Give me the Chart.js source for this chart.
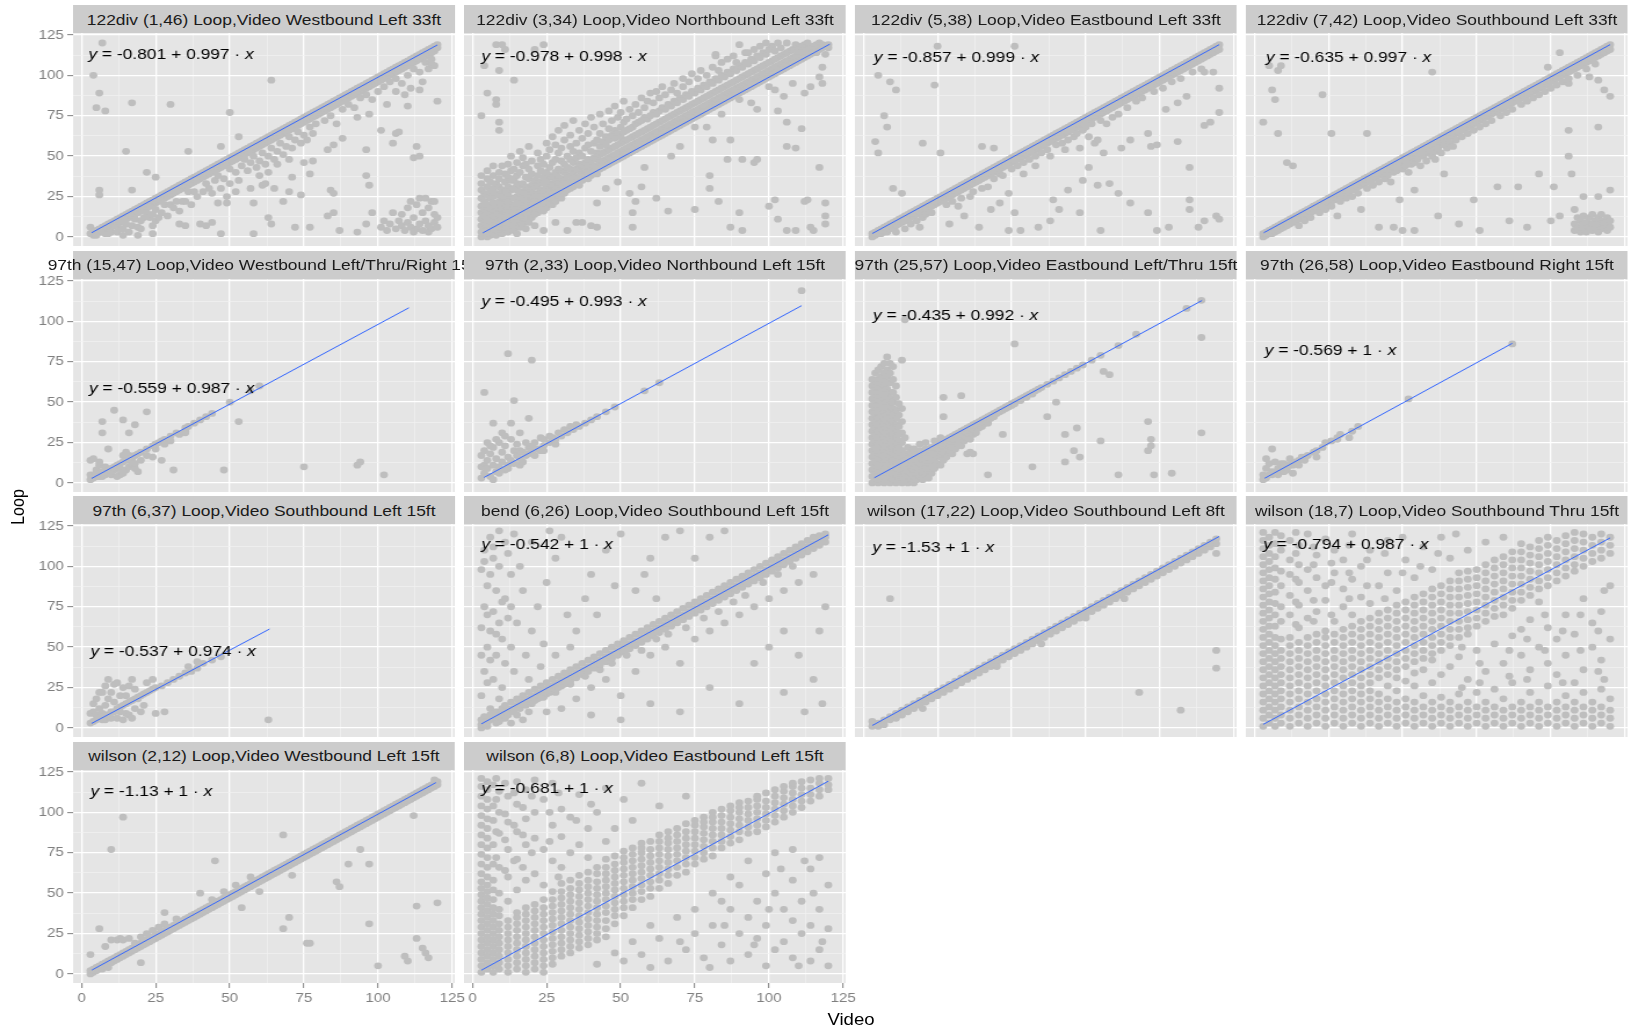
<!DOCTYPE html>
<html>
<head>
<meta charset="utf-8">
<script src="https://cdn.jsdelivr.net/npm/chart.js@4"></script>
<style>
  html, body { margin: 0; padding: 0; background: #fff; }
  body { width: 1633px; height: 1030px; overflow: hidden; position: relative; }
  #wrap { position: absolute; left: 0; top: 0; width: 1408px; height: 1030px;
          transform: scaleX(1.16); transform-origin: 0 0;
          font-family: "Liberation Sans", Arial, sans-serif; }
  canvas { position: absolute; }
  .strip { position: absolute; height: 28px; background: #CCCCCC; display: flex;
           justify-content: center; align-items: center; white-space: nowrap;
           font-size: 15px; color: #1A1A1A; }
  .axis-title { position: absolute; font-size: 16px; color: #000; white-space: nowrap;
                transform: translate(-50%, -50%); }
</style>
</head>
<body>
<div id="wrap"></div>
<script>
// facet titles, fitted coefficients and where each label sits (data units)
const titles = [
  "122div (1,46) Loop,Video Westbound Left 33ft",
  "122div (3,34) Loop,Video Northbound Left 33ft",
  "122div (5,38) Loop,Video Eastbound Left 33ft",
  "122div (7,42) Loop,Video Southbound Left 33ft",
  "97th (15,47) Loop,Video Westbound Left/Thru/Right 15ft",
  "97th (2,33) Loop,Video Northbound Left 15ft",
  "97th (25,57) Loop,Video Eastbound Left/Thru 15ft",
  "97th (26,58) Loop,Video Eastbound Right 15ft",
  "97th (6,37) Loop,Video Southbound Left 15ft",
  "bend (6,26) Loop,Video Southbound Left 15ft",
  "wilson (17,22) Loop,Video Southbound Left 8ft",
  "wilson (18,7) Loop,Video Southbound Thru 15ft",
  "wilson (2,12) Loop,Video Westbound Left 15ft",
  "wilson (6,8) Loop,Video Eastbound Left 15ft"
];
const eqA = ["-0.801", "-0.978", "-0.857", "-0.635", "-0.559", "-0.495", "-0.435",
             "-0.569", "-0.537", "-0.542", "-1.53", "-0.794", "-1.13", "-0.681"];
const eqB = ["0.997", "0.998", "0.999", "0.997", "0.987", "0.993", "0.992",
             "1", "0.974", "1", "1", "0.987", "1", "1"];
const labelX = [2.3, 3, 3.5, 3.9, 2.5, 3, 3.2, 3.5, 3, 3, 3, 3, 3, 3];
const labelY = [112.6, 111.5, 110.8, 110.8, 58.5, 111.8, 103.6, 81.5, 46.8, 113.6, 111.7, 113.6, 112.8, 114.7];

// fitted line ends
const lineFrom = [[3.4, 2.6], [3.5, 2.5], [3, 2.1], [3.2, 2.6], [3.4, 2.8], [3.9, 3.4], [3.7, 3.2],
                  [3.5, 2.9], [3.4, 2.8], [3, 2.5], [3, 1.5], [3, 2.2], [3.5, 2.4], [3, 2.3]];
const lineTo = [[120, 118.8], [120.5, 119.3], [120, 119], [120, 119], [110.4, 108.4], [111, 109.7], [114.2, 112.9],
                [87, 86.4], [63.4, 61.2], [120, 119.5], [120, 118.5], [120, 117.6], [119.5, 118.4], [120, 119.3]];

const majorTicks = [0, 25, 50, 75, 100, 125];
const minorTicks = [12.5, 37.5, 62.5, 87.5, 112.5];
const xRange = [-2.85, 125.85];
const yRange = [-5.6, 126.2];

// points per panel: each row is [video, loop, loop, ...]
const p1 = [
[3,2,6],[4,1,3,100],[5,4,1,80],[6,3,5,29,26,89],[7,6,3,120],[8,4,7,2,78],[9,8,5,2],[10,6,9,3],
[11,10,7],[12,8,11,3],[13,12,9,5],[14,10,13,5,1],[15,14,11,8,53],[16,12,15,3],[17,16,13,7,29,83],
[18,14,17,11],[19,18,15,6,1],[20,16,19,10,5],[21,20,17,12],[22,18,21,15,40],[23,22,19,12],
[24,20,23,14,7,2],[25,24,21,17,10,37],[26,22,25,12],[27,26,23,15],[28,24,27,20],[29,28,25,13],
[30,26,29,20,82],[31,30,27,18],[32,28,31,22],[33,32,29,16,8],[34,30,33,22],[35,34,31,22,7],
[36,32,35,28,53],[37,36,33,20],[38,34,37,28],[39,38,35,25],[40,36,39,8],[41,40,37,28],
[42,38,41,33,7],[43,42,39,30],[44,40,43,27,9],[45,44,41,35],[46,42,45,38,21],[47,46,43,30,56,2],
[48,44,47,36],[49,48,45,25,21],[50,46,49,42,33,77],[51,50,47],[52,48,51,40,28],[53,52,49,35,62],
[54,50,53,44],[55,54,51,48],[56,52,55,41],[57,56,53,46,30],[58,54,57,50,21,2],[59,58,55,43],
[60,56,59,47,38],[61,60,57,52,32],[62,58,61,45,33],[63,62,59,50,40,12],[64,60,63,55,97,8],
[65,64,61,48,30],[66,62,65,53,45],[67,66,63,58],[68,64,67,51,22],[69,68,65,56],[70,66,69,62,48,28],
[71,70,67,55,37],[72,68,71,60,6],[73,72,69,65],[74,70,73,58,26],[75,74,71,63,46],[76,72,75,60],
[77,76,73,68,39,6],[78,74,77,64,47],[79,78,75,70],[80,76,79],[81,80,77],[82,78,81,72],
[83,82,79,54,13],[84,80,83,75,29],[85,84,81,57,15,27],[86,82,85,70],[87,86,83,4],[88,84,87,79,61],
[89,88,85],[90,86,89,82],[91,90,87],[92,88,91,80],[93,92,89,74,3],[94,90,93,86],[95,94,91],
[96,92,95,88,54,8,38],[97,96,93,76,32],[98,94,97,85,15],[99,98,95],[100,96,99,90],[101,100,97,66,6],
[102,98,101,93,10],[103,102,99,82,4],[104,100,103,96,8],[105,104,101,58,15],[106,102,105,98,90,5,64],
[107,106,103,65,10],[108,104,107,95,7,14],[109,108,105,88,4],[110,106,109,100,81,9,18],
[111,110,107,92,6,22],[112,108,111,104,12,3,49],[113,112,109,5,20,56],[114,110,113,102,91,8,24,50],
[115,114,111,96,4,15],[116,112,115,108,10,24],[117,116,113,104,7,18,3],[118,114,117,110,107,5,22],
[119,118,115,106,9,14,22],[120,117,119,84,6,12]
];
const p2 = [
[3,0,3,7,11,15,19,24,29,33,38,75],[4,2,5,9,13,17,22,27,106],[5,0,4,8,12,16,20,26,31,36,41,89],
[6,1,3,6,10,14,18,24,28,34],[7,2,5,9,13,17,21,25,30,38,44],[8,1,4,8,12,16,20,27,33,119,85,82],
[9,3,6,10,14,18,22,26,31,36,40,71,66,103],[10,2,5,9,13,17,21,25,29,44,119],[11,4,7,11,15,19,23,28,34,39,116],
[12,3,6,10,14,18,22,26,31,37,45],[13,5,8,12,16,20,24,29,35,41,50],[14,4,7,11,15,19,24,30,36,42,97],
[15,2,9,13,17,21,25,29,33,38,46],[16,6,10,14,18,22,27,32,40,53],[17,8,12,16,20,24,28,33,44,49],
[18,5,11,15,19,23,27,31,37,45],[19,9,13,17,21,26,30,36,42,56],[20,12,16,20,24,28,32,39,47],
[21,7,14,18,22,26,31,35,116],[22,15,19,23,27,32,38,44,52],[23,17,21,25,29,34,41,48],
[24,16,20,24,28,33,37,45,119,4],[25,18,22,26,30,35,40,50,58],[26,21,25,29,33,38,43,54],
[27,20,24,28,32,37,46,62],[28,22,26,30,35,40,48,57,9],[29,25,29,33,37,42,52,66],[30,24,28,32,36,41,47,55],
[31,27,31,35,40,45,60,69],[32,29,33,38,43,50,4],[33,30,34,38,42,48,56,63],[34,31,35,40,46,53,72],
[35,33,37,42,49,58,9],[36,32,36,41,45,52,66],[37,35,39,44,50,61,9],[38,37,41,46,55,70],
[39,36,40,44,48,57,64],[40,38,42,47,53,74,7],[41,40,44,49,58,68],[42,39,43,48,52,60,21,6],
[43,42,46,51,56,64,76],[44,43,47,52,59,70],[45,44,48,53,57,62,30],[46,45,49,54,60,67,78],
[47,46,50,55,63,72],[48,47,51,56,61,66,81],[49,48,52,57,64,74,34],[50,49,53,58,62,68,77],
[51,50,54,59,65,71,84],[52,51,55,60,66,73],[53,52,56,61,67,79,27],[54,53,57,62,68,75,15,6],
[55,54,58,63,70,82,22],[56,55,59,64,71,77],[57,56,60,65,72,86,31],[58,57,61,66,74,80,43],
[59,58,62,67,73,84],[60,59,63,68,75,89],[61,60,64,69,77,83],[62,61,65,70,76,90,24],[63,62,66,71,78,86],
[64,63,67,72,80,93],[65,64,68,73,79,88],[66,65,69,74,82,16],[67,66,70,75,81,91,50],[68,67,71,76,84,95],
[69,68,72,77,83,89],[70,69,73,78,86,56],[71,70,74,79,85,93,98],[72,71,75,80,88],[73,72,76,81,87,96],
[74,73,77,82,90,101],[75,74,78,83,89,68,17],[76,75,79,84,92,98],[77,76,80,85,91,103],[78,77,81,86,94],
[79,78,82,87,93,100,68],[80,79,83,88,96,38,30],[81,80,84,89,95,105,60],[82,81,85,90,98,113,112],
[83,82,86,91,97,103,22],[84,83,87,92,100,108,76],[85,84,88,93,99],[86,85,89,94,102,110,48],
[87,86,90,95,101,6,60],[88,87,91,96,104,112],[89,88,92,97,103,108],[90,89,93,98,106,119,85,15],
[91,90,94,99,105,4,48],[92,91,95,100,108,114],[93,92,96,101,107,114],[94,93,97,102,110,83],
[95,94,98,103,109,116,46],[96,95,99,104,112,79,48],[97,96,100,105,111,118],[98,97,101,106,114],
[99,98,102,107,113,120],[100,99,103,108,116,93,19],[101,100,104,109,118,117],[102,101,105,110,115,91,23],
[103,102,106,111,120,78,11],[104,103,107,112,117],[105,104,108,113,87],[106,105,109,114,120,71,56,4],
[107,106,110,115],[108,107,111,116,95],[109,108,112,116,119,55,4],[110,109,113,117],[111,110,114,118,67],
[112,111,115,119,89,22,118],[113,112,116,120,23],[114,113,117,93,6],[115,114,118,4],[116,115,119,114],
[117,116,120,99,43],[118,117,119,95,105],[119,118,113,21,8,13],[120,119,117]
];
const p3 = [
[3,2,0],[4,3,1,59],[5,4,2,52,100],[6,5,2],[7,6,3,75],[8,7,4,68,3],[9,8,5,96],[10,9,6,30,6],
[11,10,7,3,91],[12,11,8],[13,12,9,27],[14,13,10,5,10],[15,14,11],[16,15,12,8],[17,16,13,14],
[18,17,14,10],[19,18,15,6],[20,19,16,58,12],[21,20,17,14],[22,21,18,19],[23,22,19,15],[24,23,20,94],
[25,24,21,118],[26,25,22,52],[27,26,23,23],[28,27,24,20],[29,28,25,8],[30,29,26,22],[31,30,27],
[32,31,28,19],[33,32,29,24],[34,33,30,13],[35,34,31],[36,35,32,25],[37,36,33,28],[38,37,34],
[39,38,35,6],[40,39,36,56,30],[41,40,37],[42,41,38,31],[43,42,39,17],[44,43,40,55,36],[45,44,41],
[46,45,42,39,21],[47,46,43,38],[48,47,44],[49,48,45,27,4],[50,49,46,42],[51,50,47,118,15],
[52,51,48,44],[53,52,49,4],[54,53,50,39,46],[55,54,51],[56,55,52,48],[57,56,53],[58,57,54,44,50],
[59,58,55,6],[60,59,56,52],[61,60,57],[62,61,58,54],[63,62,59,50,10],[64,63,60,23],[65,64,61,57],
[66,65,62,17],[67,66,63,58],[68,67,64,54],[69,68,65,29,60],[70,69,66],[71,70,67,62],[72,71,68,64],
[73,72,69,55,15],[74,73,70,66,35],[75,74,71,68],[76,75,72,43,62],[77,76,73,70],[78,77,74,58],
[79,78,75,32,60],[80,79,76,4,72],[81,80,77,52],[82,81,78,70],[83,82,79,33],[84,83,80,74],[85,84,81],
[86,85,82,27,76],[87,86,83,55],[88,87,84],[89,88,85,80],[90,89,86,21,60],[91,90,87],[92,91,88,84],
[93,92,89],[94,93,90,86],[95,94,91],[96,95,92,64,15],[97,96,93,56],[98,97,94,90],[99,98,95,57,4],
[100,99,96],[101,100,97,92],[102,101,98,79],[103,102,99,6],[104,103,100,96],[105,104,101],
[106,105,102,83,59],[107,106,103,98],[108,107,104],[109,108,105,87],[110,109,106,43,23,17],
[111,110,107,102],[112,111,108],[113,112,109,6],[114,113,110,104],[115,114,111,102,69,10],
[116,115,112],[117,116,113,71],[118,117,114,102],[119,118,115,13],[120,119,116,92,77,11]
];
const p4 = [
[3,2,0,71],[4,3,1],[5,4,2,106],[6,5,2,91],[7,6,3,85],[8,7,4,64,103],[9,8,5,106],[10,9,6],
[11,10,7,46],[12,11,8],[13,12,9,44],[14,13,10],[15,14,11,7],[16,15,12],[17,16,13,10],[18,17,14],
[19,18,15,12],[20,19,16,19],[21,20,17],[22,21,18,15],[23,22,19,88],[24,23,20,17],[25,24,21],
[26,25,22,64,19],[27,26,23],[28,27,24,13],[29,28,25,22],[30,29,26],[31,30,27,24],[32,31,28],
[33,32,29,25],[34,33,30],[35,34,31,27],[36,35,32,17],[37,36,33],[38,37,34,64,30],[39,38,35],
[40,39,36,32],[41,40,37],[42,41,38,6,34],[43,42,39],[44,43,40,36],[45,44,41,38],[46,45,42,34],
[47,46,43,6,40],[48,47,44,41],[49,48,45,23],[50,49,46,42,4],[51,50,47,44],[52,51,48,40],[53,52,49,45],
[54,53,50,29,4,46],[55,54,51,48],[56,55,52,44],[57,56,53,50],[58,57,54,47],[59,58,55,52],
[60,59,56,102,50],[61,60,57,48,53],[62,61,58,55,13],[63,62,59,52],[64,63,60,39,57],[65,64,61,55],
[66,65,62,58],[67,66,63,56],[68,67,64,60],[69,68,65,8],[70,69,66,62],[71,70,67],[72,71,68,64],
[73,72,69],[74,73,70,23,66],[75,74,71],[76,75,72,4,68],[77,76,73],[78,77,74,70],[79,78,75],
[80,79,76,72],[81,80,77],[82,81,78,31],[83,82,79,75],[84,83,80],[85,84,81,77],[86,85,82,10],
[87,86,83,79],[88,87,84],[89,88,85,31],[90,89,86,82],[91,90,87],[92,91,88,6,84],[93,92,89],
[94,93,90,86],[95,94,91],[96,95,92,39,88],[97,96,93],[98,97,94,90],[99,98,95,105],[100,99,96,10,92],
[101,100,97,31],[102,101,98,94],[103,102,99,114,13],[104,103,100,96],[105,104,101],
[106,105,102,95,66,50,98],[107,106,103,39],[108,107,104,17,4,8],[109,108,105,100,12,6],[110,109,106,3,10],
[111,110,107,25,5,13,8],[112,111,108,104,3,9],[113,112,109,99,6,12],[114,113,110,4,8,14],
[115,114,111,107,6,10],[116,115,112,97,68,25,3,8,12],[117,116,113,5,10,14],[118,117,114,91,6,9],
[119,118,115,4,8,12],[120,119,116,87,29,6,10]
];
const p5 = [
[3,2,5,14],[4,3,5,15],[5,4,8,5],[6,5,4,11,13],[7,4,6,7,31,38],[8,7,10,5],[9,6,8,21],[10,9,5,7],
[11,10,8,45],[12,11,4,9],[13,12,5,9],[14,13,6,17,39],[15,14,8,19],[16,15,10,17,31],[17,16,12,14],
[18,17,9,12,36],[19,18,7],[20,19,14],[22,21,17,44],[24,23,16],[25,24,21,24],[26,25],[27,26,14],
[28,27,24],[30,29,26],[31,8],[32,31],[33,30],[35,34,32,31],[36,35],[38,37],[40,39],[42,41],[44,43],
[48,8],[50,50],[53,38],[57,57],[60,60],[75,10],[93,11],[94,13],[102,5]
];
const p6 = [
[3,3,10,17],[4,6,11,20,56],[5,9,14,25],[6,4,18,23],[7,11,22,2,37],[8,7,15,27],[9,25,10,6],
[10,13,19,31],[11,8,23,29],[12,16,11,9,80],[13,14,27,37],[14,20,12,51],[15,17,24],[16,15,20,11,31],
[17,19,13],[18,17,25],[19,22,18,40],[20,19,23,76],[21,25,17],[22,21],[23,20,28],[24,23,27,20],
[26,25,29],[27,28],[28,27,24],[29,31],[30,29],[31,33],[32,31],[33,35],[34,33],[35,36],[36,35],
[38,37],[40,39],[42,41],[45,44],[48,47],[58,57],[63,62],[111,119]
];
const p7 = [
[3,0,4,8,12,16,20,24,28,32,36,40,44,48,52,56,60,64],
[4,2,6,10,14,18,22,26,30,34,38,42,46,50,54,58,62,68],
[5,0,4,8,12,16,20,24,28,32,36,40,44,48,52,56,60,64,70],
[6,2,6,10,14,18,22,26,30,34,38,42,46,50,54,58,62,66,72],
[7,0,4,8,12,16,20,24,28,32,36,40,44,48,52,56,60,64,68,74],
[8,2,6,10,14,18,22,26,30,34,38,42,46,50,54,58,62,66,70,78],
[9,0,4,8,12,16,20,24,28,32,36,40,44,48,52,56,62,68,74],
[10,2,6,10,14,18,22,26,30,34,38,42,46,50,56,64,72],
[11,0,4,8,12,16,20,24,28,32,36,40,45,53,60],
[12,2,6,10,14,18,22,26,30,35,42,49],
[13,0,4,8,12,16,20,25,31,38,46,76],
[14,2,6,10,14,18,28,101],[15,0,4,8,12,15,22],[16,2,6,10,14,17,19],[17,0,4,8,12,16,21],
[18,2,6,10,14,18],[19,4,8,12,16,20,24],[20,2,6,10,14,18],[21,5,9,13,17,21,25],[22,3,8,12,16,20],
[23,6,11,15,19,22],[24,9,14,18,22,26],[25,12,17,21,24],[26,11,16,20,25,28],[27,14,19,23,26,41,53],
[28,16,21,24,27],[29,19,23,26,28],[30,18,22,27,29],[31,21,25,28,30],[32,24,27,31],[33,23,27,30,32,54],
[34,26,29,33],[35,28,31,34,18],[36,27,32,35,19],[37,30,33,36,18],[38,31,35,37],[39,34,36,38],
[40,35,38,39],[41,37,40],[42,38,41,37,5],[43,40,42],[44,41,43],[45,43,44],[46,44,45],[47,45,46,30],
[48,46,47],[49,47,48],[50,48,49],[51,49,50,86],[52,51],[53,51,52],[54,53],[55,53,54],[56,55],
[57,55,56,10],[58,57],[59,58],[60,59],[62,61,41],[64,63],[65,50],[66,65],[68,67,30,13],[70,69],
[71,20],[72,71,34],[73,16],[74,73],[77,76],[80,79,26],[81,69],[83,67],[86,85,5],[92,92],[96,38,20],
[97,27,23],[98,5],[104,6],[109,108],[114,113,90,31]
];
const p8 = [
[3,2,5],[4,9,15,3],[5,12,5],[6,21,7,5],[7,6,13],[8,9,5,7],[9,8,12],[10,12,7],[11,10,8],[12,15,11],
[13,6,11,12],[14,13],[15,14,11],[16,16],[17,16,14],[18,17],[20,19],[21,20,16],[23,22],[24,25],
[26,26],[28,28,27],[29,30],[32,28],[33,32],[35,35],[52,52],[87,86]
];
const p9 = [
[3,3,9],[4,4,10,15],[5,8,18,5],[6,6,12,22],[7,9,22,5],[8,5,26,8,14],[9,8,30,18],[10,6,22,10],
[11,10,16,27],[12,12,28,6],[13,10,13,20],[14,5,14,25],[15,15,20,9],[16,26,16,8],[17,6,17,30],
[18,24,18,12],[19,18,19],[20,20,10],[21,14,21],[22,28,22],[23,23],[24,30,24],[25,9,25],[27,26],
[28,10],[29,28],[31,30],[33,32],[35,34],[36,38],[37,35],[39,37,41],[41,40],[44,42],[47,44],[63,5]
];
const p10 = [
[3,20,45,62,98,2,5,0],[4,35,75,103,110,3,7],[5,28,50,70,88,4,1,3],[6,42,60,95,118,12,8,5],
[7,30,72,105,112,6,9],[8,45,58,85,3,7,10],[9,18,65,100,122,4,8],[10,25,55,78,12,9,6],
[11,40,80,115,6,10,14],[12,68,108,11,8],[13,50,75,95,3,12,16],[14,35,120,12,10],[15,65,8,14,18],
[16,100,15,12],[17,85,5,16,20],[18,45,17,14],[19,30,10,18,22],[20,60,115,15,19,16],[21,20,24,17],
[22,75,21,18],[23,38,22,26,19],[24,52,19,23,20],[25,90,10,24,28,21],[26,122,25,22],[27,26,30,23],
[28,105,45,22,27,24],[29,28,32,25],[30,118,12,29,26],[31,30,34,27],[32,70,31,28],[33,50,27,32,36,29],
[35,60,18,34,38,31],[37,36,40,33],[38,80,32],[39,38,42,35],[40,95,25,8],[41,40,44,37],[42,70],
[43,36,42,46,39],[45,110,30,44,48,41],[47,40,46,50,43],[48,88],[49,48,52,45],[50,120,20,5],
[51,50,54,47],[52,45],[53,52,56,49],[55,85,35,54,58,51],[57,48,56,60,53],[58,95],[59,58,62,55],
[60,105,45,15],[61,60,64,57],[62,80,55],[63,62,66,59],[65,118,50,64,68,61],[66,58],[67,66,70,63],
[69,68,72,65],[70,122,40,10],[71,70,74,67],[72,62],[73,72,76,69],[75,105,55,74,78,71],[77,76,80,73],
[78,68],[79,78,82,75],[80,118,60,25],[81,80,84,77],[83,82,86,79,72],[85,122,65,84,88,81],
[87,86,90,83],[88,78],[89,88,92,85],[90,70,15],[91,90,94,87],[92,82],[93,92,96,89],[95,75,40,94,98,91],
[97,96,100,93],[98,90],[99,98,102,95],[100,80,50],[101,100,104,97],[103,102,106,99,95],
[105,85,60,22,104,108,101],[107,106,110,103],[108,100],[109,108,112,105],[110,90,45],[111,110,114,107],
[112,10],[113,112,116,109],[115,95,30,114,118,111],[117,60,116,119,113],[118,15],[119,118,120,115,75]
];
const p11 = [
[3,1,4],[5,3,1],[7,5,2],[9,7,5,80],[11,9,6],[13,11,8],[15,13,10],[17,15,12],[19,17,14],[20,12],
[21,19,16],[23,21,18],[25,23,20],[27,25,22],[29,27,24],[31,29,26],[33,31,28],[35,33,30],[37,35,32],
[39,37,34],[41,39,36],[43,41,38],[45,43,40,38],[47,45,42],[49,47,44],[51,49,46],[53,51,48],[55,53,50],
[57,55,52],[59,57,54],[60,52],[61,59,56],[63,61,58],[65,63,60],[67,65,62],[69,67,64],[71,69,66],
[73,71,68],[75,73,70,68],[77,75,72],[79,77,74],[81,79,76],[83,81,78],[85,83,80],[87,85,82],[88,80],
[89,87,84],[91,89,86],[93,91,88,22],[95,93,90],[97,95,92],[99,97,94],[101,99,96],[103,101,98],
[105,103,100],[107,105,102,11],[109,107,104],[111,109,106],[113,111,108],[115,113,110],[117,115,112],
[119,117,114,108,48,37]
];
const p12 = [
[3,1,6,11,16,21,26,31,36,41,46,51,56,61,66,71,76,81,86,91,96,101,106,111,116,121],
[5,3,8,13,18,23,28,33,38,43,48,53,58,63,68,73,78,83,88,93,98,103,108,113,118],
[7,1,6,11,16,21,26,31,36,41,46,51,56,63,70,77,84,92,99,106,114,121],
[9,3,8,13,18,23,28,33,38,43,48,55,66,75,88,97,110,119],
[12,1,6,11,16,21,26,31,36,41,46,51,56,70,82,95,104,116],
[14,64,78,92,108,121],
[15,3,8,13,18,23,28,33,38,43,48,53,62,76,90,101,113],
[18,1,6,11,16,21,26,31,36,41,46,51,56,68,85,98,120],
[20,66,79,101,112],
[21,3,8,13,18,23,28,33,38,43,48,53,58,72,93,107],
[24,1,6,11,16,21,26,31,36,41,46,51,56,60,79,88,117],
[26,70,90,102],
[27,3,8,13,18,23,28,33,38,43,48,53,58,66,96,110],
[30,1,6,11,16,21,26,31,36,41,46,51,56,61,75,86,104],
[32,80,96,113],
[33,3,8,13,18,23,28,33,38,43,48,53,58,63,70,92,120],
[36,1,6,11,16,21,26,31,36,41,46,51,56,61,66,81,100],
[38,88,104],
[39,3,8,13,18,23,28,33,38,43,48,53,58,63,68,77,110],
[42,1,6,11,16,21,31,36,41,46,51,56,61,66,71,88],
[44,80,108],
[45,3,8,13,18,26,33,38,43,48,53,58,63,68,73,96,116],
[48,1,6,11,16,23,31,36,41,46,51,56,61,66,71,76,85],
[50,96,118],
[51,3,8,13,18,29,38,43,48,53,58,63,68,73,78,104],
[54,1,6,11,16,26,34,41,46,51,56,61,66,71,76,81,93],
[56,100],
[57,3,8,13,20,36,43,48,53,58,63,68,73,78,83,112],
[60,1,6,11,16,28,42,46,51,56,61,66,71,76,81,86,98],
[62,108],
[63,3,8,13,19,33,48,53,58,63,68,73,78,83,88,118],
[66,1,6,11,16,38,51,56,61,66,71,76,81,86,91,105],
[68,120],
[69,3,8,13,21,44,56,61,66,71,76,81,86,91,96],
[70,50,25],
[72,1,6,11,16,30,58,62,67,72,77,82,87,92,97,110],
[75,3,8,13,22,48,63,68,73,78,83,88,93,98],
[76,40,28],
[78,1,6,11,16,35,66,71,76,81,86,91,96,101,115],
[81,3,8,13,24,52,69,74,79,84,89,94,99,104],
[84,1,6,11,18,40,70,76,81,86,91,96,101,106,118],
[86,48,32],
[87,3,8,13,28,57,74,79,84,89,94,99,104,109],
[90,1,6,11,16,45,61,79,84,89,94,99,104,109,114],
[92,55,30],
[93,3,8,13,22,36,67,82,87,92,97,102,107,112],
[96,1,6,11,16,50,78,86,91,96,101,106,111,116],
[98,70,48],
[99,3,8,13,26,40,62,88,93,98,103,108,113,118],
[102,1,6,11,16,33,55,91,96,101,106,111,116],
[104,60,28],
[105,3,8,13,20,45,70,94,99,104,109,114,119],
[108,1,6,11,16,28,58,97,101,106,111,116,121],
[110,48,70],
[111,3,8,13,22,36,80,100,105,110,115,120],
[114,1,6,11,16,50,65,103,108,113,118],
[116,35,60],
[117,3,8,13,24,42,72,105,110,115,120],
[118,85,30],
[120,1,6,11,18,55,88,108,113,118]
];
const p13 = [
[3,2,0,12],[4,3,1],[5,4,2],[6,5,3,28],[7,6,3],[8,7,5,17],[9,8,6,4],[10,9,7,21,77],[11,10,8],
[12,11,9,21],[13,12,10,22],[14,13,11,97,21],[15,14,12],[16,15,13,22],[17,16,14],[18,17,15,19],
[19,18,16],[20,19,17,7,23],[21,20,18],[22,21,19,25],[23,22,20],[24,23,21,27],[25,24,22],[26,25,23,29],
[27,26,24],[28,27,25,38,31],[29,28,26],[30,29,27],[31,30,28],[32,31,29,34],[33,32,30],[34,33,31],
[35,34,32],[36,35,33],[37,36,34],[38,37,35],[39,38,36],[40,39,37,50],[41,40,38],[42,41,39],[43,42,40],
[44,43,41,46],[45,44,42,70],[46,45,43],[47,46,44],[48,47,45,51],[49,48,46],[50,49,47],[51,50,48],
[52,51,49,55],[53,52,50],[54,53,51,41],[55,54,52],[56,55,53],[57,56,54,60],[58,57,55],[59,58,56],
[60,59,57,51],[61,60,58],[62,61,59],[63,62,60],[64,63,61],[65,64,62],[66,65,63],[67,66,64],
[68,67,65,28,86],[69,68,66],[70,69,67,35],[71,70,68,61],[72,71,69],[73,72,70],[74,73,71],[75,74,72],
[76,75,73,19],[77,76,74,19],[78,77,75],[79,78,76],[80,79,77],[81,80,78],[82,81,79],[83,82,80],
[84,83,81],[85,84,82],[86,85,83,57],[87,86,84,54],[88,87,85],[89,88,86],[90,89,87,68],[91,90,88],
[92,91,89],[93,92,90],[94,93,91,77],[95,94,92],[96,95,93],[97,96,94,68,31],[98,97,95],[99,98,96],
[100,99,97,5],[101,100,98],[102,101,99],[103,102,100],[104,103,101],[105,104,102],[106,105,103],
[107,106,104],[108,107,105],[109,108,106,11],[110,109,107,8],[111,110,108],[112,111,109,98],
[113,112,110,42,22],[114,113,111],[115,114,112,16],[116,115,113,13],[117,116,114,10],[118,117,115],
[119,118,116,120],[120,119,117,44]
];
const p14 = [
[3,1,5,9,13,17,21,25,29,33,37,41,45,49,53,57,62,68,74,80,86,92,98,104,110,116,121],
[5,3,7,11,15,19,23,27,31,35,39,43,47,51,55,60,66,72,78,84,90,96,102,108,114,119],
[7,1,5,9,13,17,21,25,29,33,37,41,46,52,58,68,80,95,104,117],
[8,72,88,108,121],
[9,3,7,11,15,19,23,27,31,36,40,50,66,87,100,113],
[11,64,83,99,118],
[12,1,5,9,13,17,21,25,29,33,45,60,77,94,110],
[14,70,92,112],
[15,3,7,11,15,19,23,27,31,35,38,52,71,88,105,119],
[17,66,86,103],
[18,1,5,9,13,17,21,25,29,33,37,41,58,80,96,114],
[20,75,110],
[21,3,7,11,15,19,23,27,31,35,39,43,62,84,100,120],
[24,1,5,9,13,17,21,25,29,33,37,41,46,55,77,108],
[26,82,100],
[27,6,10,14,18,22,26,30,34,38,42,46,51,70,92,118],
[29,60,112],
[30,11,15,19,23,27,31,35,39,43,47,51,56,66,85,102],
[33,13,17,21,25,29,33,37,41,45,49,53,58,75,97],
[35,95],
[36,16,20,24,28,32,36,40,44,48,52,56,61,80,111],
[39,18,22,26,30,34,38,42,46,50,54,58,63,72,90],
[40,105],
[42,21,25,29,33,37,41,45,49,53,57,62,66,100,6],
[45,23,28,33,38,42,46,50,54,58,62,66,71,82,115],
[48,31,36,40,44,48,52,56,60,64,68,73,90,13],
[51,36,41,45,49,53,57,61,65,69,72,76,108,8],
[54,41,46,50,54,58,62,66,70,74,78,95,20],
[57,46,51,55,59,63,67,71,75,78,81,118,12],
[60,48,53,57,61,65,69,73,77,82,30,4],
[63,53,58,62,66,70,74,78,82,86,104,22],
[66,56,61,65,69,73,77,81,84,88,8],
[69,61,66,70,74,78,82,86,90,35],
[70,20],
[72,63,68,72,76,80,84,88,93,15,110],
[75,68,72,76,80,84,88,92,95,40,25],
[78,71,75,79,83,87,91,94,97,10],
[80,4],
[81,73,78,82,86,90,94,97,100,30,50],
[84,78,82,86,90,94,98,102,18,45],
[85,30],
[87,81,85,89,93,97,101,104,8,40,60],
[90,83,88,92,96,100,103,106,25,55],
[93,87,91,95,99,103,107,12,35,70],
[95,18],
[96,88,92,96,100,104,108,110,45,22],
[99,91,95,99,103,107,112,5,30,62],
[100,40],
[102,94,98,102,106,110,114,15,50,75],
[104,65],
[105,97,101,105,109,113,116,20,40],
[108,100,104,108,112,116,118,10,33,58,77],
[110,5],
[111,103,107,111,115,119,25,45],
[112,70],
[114,107,111,115,120,8,30,65],
[115,50],
[117,110,114,118,121,15,40,72],
[118,20],
[120,114,117,121,5,28,55]
];
const panels = [p1, p2, p3, p4, p5, p6, p7, p8, p9, p10, p11, p12, p13, p14];

const toPoints = cols => cols.flatMap(([x, ...ys]) => ys.map(y => ({ x, y })));

// page geometry, in final (stretched) pixels
const S = 1.16;
const colX = [73, 464, 855, 1246];
const rowY = [33, 278.5, 524, 769.5];
const PW = 382, PH = 213;

const wrap = document.getElementById("wrap");

const bgPlugin = {
  id: "panelBg",
  beforeDraw(chart) {
    const { ctx, chartArea: a } = chart;
    ctx.save();
    ctx.fillStyle = "#E5E5E5";
    ctx.fillRect(a.left, a.top, a.right - a.left, a.bottom - a.top);
    ctx.restore();
  }
};

const eqPlugin = {
  id: "eq",
  afterDatasetsDraw(chart, args, opts) {
    const { ctx } = chart;
    const x0 = chart.scales.x.getPixelForValue(opts.x);
    const y0 = chart.scales.y.getPixelForValue(opts.y);
    const parts = [["y", true], [" = ", false], [opts.a, false], [" + ", false],
                   [opts.b, false], [" \u00B7 ", false], ["x", true]];
    ctx.save();
    ctx.fillStyle = "#000";
    ctx.textBaseline = "middle";
    let x = x0;
    parts.forEach(([t, it]) => {
      ctx.font = (it ? "italic " : "") + '15px "Liberation Sans"';
      ctx.fillText(t, x, y0);
      x += ctx.measureText(t).width;
    });
    ctx.restore();
  }
};

function isMajor(ctx) {
  return ctx.tick && majorTicks.includes(ctx.tick.value);
}

function axis(horizontal, show, size, range) {
  return {
    type: "linear",
    min: range[0],
    max: range[1],
    afterBuildTicks: s => {
      s.ticks = majorTicks.concat(minorTicks).sort((a, b) => a - b).map(v => ({ value: v }));
    },
    afterFit: s => {
      if (horizontal) { s.height = size; s.paddingLeft = 0; s.paddingRight = 0; }
      else { s.width = size; s.paddingTop = 0; s.paddingBottom = 0; }
    },
    ticks: {
      display: show,
      autoSkip: false,
      maxRotation: 0,
      padding: 3,
      color: "#7F7F7F",
      font: { family: "Liberation Sans", size: 13 },
      callback: v => majorTicks.includes(v) ? String(v) : ""
    },
    grid: {
      color: ctx => isMajor(ctx) ? "#FFFFFF" : "#F2F2F2",
      lineWidth: ctx => isMajor(ctx) ? 1.3 : 0.7,
      drawTicks: show,
      tickLength: 5,
      tickWidth: 1,
      tickColor: ctx => isMajor(ctx) ? "#7F7F7F" : "rgba(0,0,0,0)"
    },
    border: { display: false }
  };
}

panels.forEach((cols, i) => {
  const r = Math.floor(i / 4), c = i % 4;
  const showY = c === 0;
  const showX = i >= 12;
  const yw = showY ? 36 : 0, xh = showX ? 30 : 0, padT = 8, padR = 16;
  const pw = Math.round(PW / S);

  const canvas = document.createElement("canvas");
  canvas.width = yw + pw + padR;
  canvas.height = padT + PH + xh;
  canvas.style.left = (colX[c] / S - yw) + "px";
  canvas.style.top = (rowY[r] - padT) + "px";
  wrap.appendChild(canvas);

  new Chart(canvas, {
    type: "scatter",
    data: {
      datasets: [
        {
          type: "line",
          data: [{ x: lineFrom[i][0], y: lineFrom[i][1] }, { x: lineTo[i][0], y: lineTo[i][1] }],
          borderColor: "#3366FF",
          borderWidth: 1,
          pointRadius: 0,
          fill: false,
          order: 0
        },
        {
          data: toPoints(cols),
          backgroundColor: "#BEBEBE",
          pointRadius: 3.4,
          borderWidth: 0,
          order: 1
        }
      ]
    },
    options: {
      responsive: false,
      animation: false,
      events: [],
      layout: { autoPadding: false, padding: { top: padT, right: padR, left: 0, bottom: 0 } },
      scales: {
        x: axis(true, showX, xh, xRange),
        y: axis(false, showY, yw, yRange)
      },
      plugins: {
        legend: { display: false },
        tooltip: { enabled: false },
        eq: { x: labelX[i], y: labelY[i], a: eqA[i], b: eqB[i] }
      }
    },
    plugins: [bgPlugin, eqPlugin]
  });
});

// facet strips go on top so overflowing titles get covered by the next strip
titles.forEach((t, i) => {
  const r = Math.floor(i / 4), c = i % 4;
  const d = document.createElement("div");
  d.className = "strip";
  d.style.left = (colX[c] / S) + "px";
  d.style.top = (rowY[r] - 28) + "px";
  d.style.width = (PW / S) + "px";
  d.textContent = t;
  wrap.appendChild(d);
});

const yTitle = document.createElement("div");
yTitle.className = "axis-title";
yTitle.textContent = "Loop";
yTitle.style.left = (18 / S) + "px";
yTitle.style.top = "507px";
yTitle.style.transform = "translate(-50%, -50%) rotate(-90deg)";
wrap.appendChild(yTitle);

const xTitle = document.createElement("div");
xTitle.className = "axis-title";
xTitle.textContent = "Video";
xTitle.style.left = (851 / S) + "px";
xTitle.style.top = "1020px";
wrap.appendChild(xTitle);
</script>
</body>
</html>
